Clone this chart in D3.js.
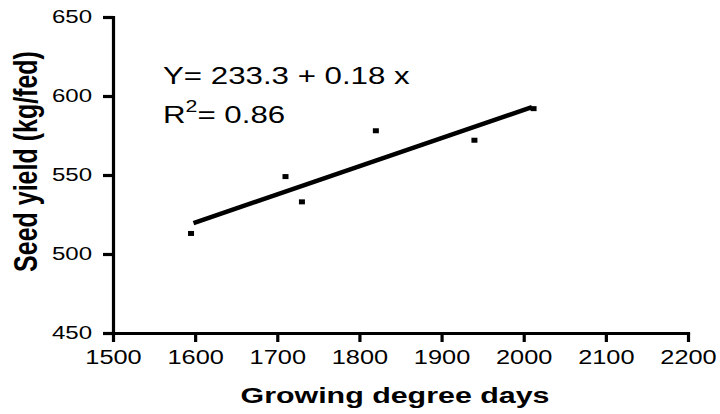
<!DOCTYPE html>
<html>
<head>
<meta charset="utf-8">
<script src="https://cdn.jsdelivr.net/npm/d3@7"></script>
<style>
  body { margin: 0; background: #fff; }
  svg { display: block; font-family: "Liberation Sans", Arial, sans-serif; }
</style>
</head>
<body>
<div id="chart"></div>
<script>
// data
const xTicks = [1500, 1600, 1700, 1800, 1900, 2000, 2100, 2200];
const yTicks = [450, 500, 550, 600, 650];
const gdd = [1595, 1710, 1730, 1820, 1940, 2012];
const seedYield = [513, 549, 533, 578, 572, 592];
const fitX = [1598, 2010];
const fitY = [519.5, 593];
const eqText = "Y= 233.3 + 0.18 x";
const r2Value = "= 0.86";

const width = 720, height = 414;
const SX = 1.3; // glyphs in the figure are stretched sideways

const svg = d3.select("#chart").append("svg")
  .attr("width", width)
  .attr("height", height);

const x = d3.scaleLinear().domain([1500, 2200]).range([113, 688]);
const y = d3.scaleLinear().domain([450, 650]).range([333, 17]);

function stretch(sel) {
  sel.attr("textLength", function() { return this.getComputedTextLength() * SX; })
    .attr("lengthAdjust", "spacingAndGlyphs");
}

const xAxis = svg.append("g")
  .attr("transform", `translate(0,${y(450)})`)
  .call(d3.axisBottom(x).tickValues(xTicks).tickFormat(d3.format("d"))
    .tickSize(9).tickSizeOuter(0).tickPadding(8));

const yAxis = svg.append("g")
  .attr("transform", `translate(${x(1500)},0)`)
  .call(d3.axisLeft(y).tickValues(yTicks).tickFormat(d3.format("d"))
    .tickSize(10).tickSizeOuter(0).tickPadding(11));

[xAxis, yAxis].forEach(g => {
  g.select(".domain").attr("stroke", "#000").attr("stroke-width", 3.2)
    .attr("stroke-linecap", "square");
  g.selectAll(".tick line").attr("stroke", "#000").attr("stroke-width", 3.2);
  g.selectAll(".tick text").attr("fill", "#000")
    .style("font-family", "'Liberation Sans', Arial, sans-serif");
});
xAxis.selectAll(".tick text").style("font-size", "19.5px").call(stretch);
yAxis.selectAll(".tick text").style("font-size", "18.5px").call(stretch);

// regression line
const fit = fitX.map((v, i) => [v, fitY[i]]);
svg.append("path")
  .datum(fit)
  .attr("fill", "none")
  .attr("stroke", "#000")
  .attr("stroke-width", 4.5)
  .attr("d", d3.line().x(d => x(d[0])).y(d => y(d[1])));

// observed points
svg.append("g").selectAll("rect")
  .data(gdd.map((v, i) => ({gdd: v, yield: seedYield[i]})))
  .join("rect")
  .attr("x", d => x(d.gdd) - 3)
  .attr("y", d => y(d.yield) - 2.5)
  .attr("width", 6)
  .attr("height", 5)
  .attr("fill", "#000");

// equation
const eq = svg.append("g").attr("transform", `translate(163,84) scale(1.33,1)`);
eq.append("text")
  .attr("font-size", 23.5)
  .attr("fill", "#000")
  .text(eqText);
const r2 = eq.append("text")
  .attr("y", 39)
  .attr("font-size", 23.5)
  .attr("fill", "#000");
r2.append("tspan").text("R");
r2.append("tspan").attr("font-size", 16).attr("dy", -11).text("2");
r2.append("tspan").attr("dy", 11).text(r2Value);

// axis titles
svg.append("text")
  .attr("x", 395)
  .attr("y", 403)
  .attr("text-anchor", "middle")
  .attr("font-size", 22)
  .attr("font-weight", "bold")
  .attr("textLength", 309)
  .attr("lengthAdjust", "spacingAndGlyphs")
  .text("Growing degree days");

svg.append("text")
  .attr("transform", `translate(37,161.5) rotate(-90) scale(1,1.3)`)
  .attr("text-anchor", "middle")
  .attr("font-size", 25)
  .attr("font-weight", "bold")
  .text("Seed yield (kg/fed)");
</script>
</body>
</html>
